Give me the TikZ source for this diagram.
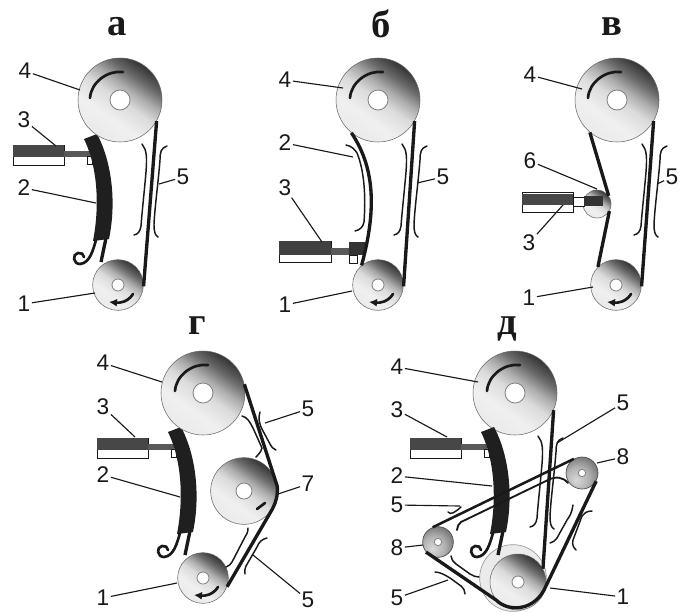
\documentclass[tikz,border=0pt]{standalone}
\usepackage{fontspec}
\setmainfont{Liberation Sans}
\newfontfamily\titlefont{Liberation Serif}
\usetikzlibrary{arrows.meta}
\definecolor{ink}{gray}{0.1}
\pgfdeclareverticalshading{pulleyaxis}{100bp}{%
 color(0bp)=(black!8); color(25bp)=(black!8); color(38bp)=(black!6); color(50bp)=(black!14); color(58bp)=(black!32); color(66bp)=(black!58); color(75bp)=(black!80); color(100bp)=(black!85)}
\pgfdeclareradialshading{idlershade}{\pgfpoint{-10bp}{-12bp}}{%
 color(0bp)=(black!15); color(18bp)=(black!30); color(34bp)=(black!55); color(50bp)=(black!78); color(70bp)=(black!85)}
\tikzset{
 pulley/.style={circle,shading=pulleyaxis,shading angle=-35,draw=black!60,line width=.4pt,inner sep=0pt},
 holeN/.style={circle,fill=white,draw=black!50,line width=.6pt,inner sep=0pt},
 belt/.style={draw=ink,line width=2.5pt,line join=round},
 slackline/.style={draw=ink,line width=1.1pt,line cap=round},
 leader/.style={draw=ink,line width=.85pt},
 lab/.style={text=ink,font=\fontsize{17}{18}\selectfont,inner sep=1pt},
 heading/.style={text=ink,font=\titlefont\bfseries\fontsize{29}{30}\selectfont,inner sep=0pt},
 spin/.style={draw=ink,line width=2pt,line cap=round},
}
% name, position, diameter, hole diameter
\newcommand\pulleyAt[4]{\node[pulley,minimum size=#3] (#1) at (#2) {};\node[holeN,minimum size=#4] (#1h) at (#1) {};}
% small idler of the last panel
\newcommand\idlerAt[3]{\node[circle,shading=idlershade,draw=black!70,line width=.5pt,inner sep=0pt,minimum size=#3] (#1) at (#2) {};\node[holeN,minimum size=5.5pt] (#1h) at (#1) {};}
% label: name, position, text, target
\newcommand\lab[4]{\node[lab] (#1) at (#2) {#3};\coordinate (#1t) at (#4);\draw[leader] (#1) -- (#1t);}
% big pulley turning mark
\newcommand\bigspin[1]{\begin{scope}[shift={(#1)}]\draw[spin] (-28,-2) .. controls (-27,-18) and (-10,-30) .. (5,-28);\end{scope}}
% small pulley turning mark
\newcommand\smallspin[1]{\begin{scope}[shift={(#1)}]\draw[spin,-{Latex[length=6pt,width=6pt]}] (15,9) .. controls (10,17) and (2,18) .. (-9,17);\end{scope}}
% tension marks beside a straight belt
\newcommand\tensionmarks[1]{\begin{scope}[shift={(#1)}]
 \draw[slackline] (142,144) .. controls (147,150) and (147,158) .. (146,172) .. controls (144,195) and (142,212) .. (141,226) .. controls (140,232) and (138,234) .. (134,235);
 \draw[slackline] (167,146) .. controls (161,148) and (160,152) .. (160,160) .. controls (158,185) and (155,205) .. (154,224) .. controls (154,232) and (155,235) .. (158,237);
\end{scope}}
% cylinder, rod, shoe, hook and slack belt
\newcommand\shoeUnit[1]{\begin{scope}[shift={(#1)}]
 \draw[ink,line width=.7pt,fill=white] (13,145) rectangle (64,165);
 \fill[black!72] (13,145) rectangle (64,157);
 \fill[black!65] (64,151) rectangle (90,157);
 \draw[ink,line width=.5pt,fill=white] (87,156) rectangle (92,164);
 \draw[belt] (106,238) -- (101,262);
 \fill[black!88] (84,139) -- (97,134) .. controls (111,160) and (117,200) .. (109,239) -- (93,241) .. controls (99,210) and (99,170) .. (84,139) -- cycle;
 \draw[ink,line width=2pt,line cap=round] (96,240) .. controls (93,250) and (90,263) .. (80,264) .. controls (73,264) and (72,254) .. (78,253) .. controls (81,252.5) and (84,254) .. (84,257);
\end{scope}}
\begin{document}
\begin{tikzpicture}[x=.75pt,y=-.75pt]
\useasboundingbox[fill=white] (0,0) rectangle (680,611);
% ---------- a
\node[heading] (ta) at (117,27) {а};
\shoeUnit{0,0}
\pulleyAt{a4}{120,100}{63pt}{15pt}
\pulleyAt{a1}{118,285}{38pt}{9pt}
\bigspin{118,100}\smallspin{118,285}
\draw[belt] (a4.-30) -- (a1.-3);
\tensionmarks{0,0}
\lab{a4l}{25,71}{4}{80,90}
\lab{a3l}{24,120}{3}{56,146}
\lab{a2l}{24,188}{2}{96,203}
\lab{a1l}{24,304}{1}{95,293}
\lab{a5l}{183,177}{5}{159,184}
% ---------- b
\node[heading] (tb) at (381,24) {б};
\draw[ink,line width=.7pt,fill=white] (279,241) rectangle (331,262);
\fill[black!75] (279,241) rectangle (331,255);
\fill[black!65] (331,248) rectangle (350,255);
\fill[black!80] (349,242) rectangle (365,255);
\draw[ink,line width=.5pt,fill=white] (349,255) rectangle (357,263);
\pulleyAt{b4}{378,100}{63pt}{15pt}
\pulleyAt{b1}{378,285}{38pt}{9pt}
\bigspin{378,100}\smallspin{378,285}
\draw[belt] (b4.-30) -- (b1.-3);
\draw[belt] (b4.-129) .. controls (373,165) and (378,205) .. (b1.130);
\tensionmarks{260,0}
\draw[slackline] (346,145) .. controls (352,146) and (355,150) .. (357,153) .. controls (364,170) and (366,195) .. (364,222) .. controls (363,227) and (360,230) .. (355,231);
\lab{b4l}{285,80}{4}{343,88}
\lab{b2l}{285,143}{2}{353,157}
\lab{b3l}{285,188}{3}{322,242}
\lab{b1l}{285,305}{1}{352,291}
\lab{b5l}{443,177}{5}{417,183}
% ---------- v
\node[heading] (tv) at (612,27) {в};
\draw[ink,line width=.7pt,fill=white] (522,192) rectangle (573,212);
\fill[black!72] (522,194) rectangle (573,205);
\node[pulley,minimum size=21pt] (v6) at (597,204) {};
\draw[ink,line width=.6pt,fill=white] (573,197) rectangle (584,206);
\fill[black!80] (584,196) rectangle (603,206);
\pulleyAt{v4}{617,100}{63pt}{15pt}
\pulleyAt{v1}{616,285}{38pt}{9pt}
\bigspin{616,100}\smallspin{616,285}
\draw[belt] (v4.-30) -- (v1.-3);
\draw[belt] (v4.-130) -- (v6.35);
\draw[belt] (v6.-30) -- (v1.135);
\tensionmarks{500,0}
\lab{v4l}{530,75}{4}{582,89}
\lab{v6l}{530,161}{6}{597,189}
\lab{v3l}{529,243}{3}{563,205}
\lab{v1l}{529,298}{1}{593,287}
\lab{v5l}{672,177}{5}{657,184}
% ---------- g
\node[heading] (tg) at (197,326) {г};
\shoeUnit{84,293}
\pulleyAt{g4}{203,393}{63pt}{15pt}
\pulleyAt{g7}{244,491}{50pt}{12pt}
\pulleyAt{g1}{203,578}{38pt}{9pt}
\bigspin{203,393}\smallspin{203,578}
\draw[spin] (257,509) -- (265,503);
\draw[belt] (g4.12) -- (g7.8) .. controls (278,495) and (276,502) .. (g7.-32) -- (g1.-20);
\draw[slackline] (242,416) .. controls (247,417) and (250,422) .. (253,428) -- (262,448) .. controls (261,452) and (258,455) .. (256,457);
\draw[slackline] (260,412) .. controls (258,418) and (259,424) .. (263,431) -- (270,444) .. controls (272,448) and (274,449) .. (276,450);
\draw[slackline] (248,528) .. controls (248,532) and (247,534) .. (245,537) -- (232,562) .. controls (231,564) and (229,566) .. (226,567);
\draw[slackline] (267,538) .. controls (262,539) and (259,542) .. (257,547) -- (246,566) .. controls (245,569) and (244,571) .. (245,574);
\lab{g4l}{103,363}{4}{162,382}
\lab{g3l}{103,407}{3}{135,437}
\lab{g2l}{103,475}{2}{180,497}
\lab{g1l}{103,598}{1}{177,583}
\lab{g5al}{308,409}{5}{265,423}
\lab{g7l}{308,484}{7}{278,494}
\lab{g5bl}{308,600}{5}{253,555}
% ---------- d
\node[heading] (td) at (507,329) {д};
\node[circle,minimum size=50pt,inner sep=0pt,fill=black!8,draw=black!40,line width=.5pt] (dr) at (513,578) {};
\pulleyAt{d4}{515,393}{63pt}{15pt}
\bigspin{515,393}
\pulleyAt{d1}{518,582}{42pt}{9pt}
\draw[belt] (d4.-24) -- (d1.28);
\tensionmarks{396,292}
\shoeUnit{397,293}
\idlerAt{d8r}{582,473}{24pt}
\idlerAt{d8l}{438,542}{23pt}
\draw[belt,line width=1.9pt] (d8l.110) -- (d8r.120);
\coordinate (dla) at (457,530);\coordinate (dlb) at (568,483);
\draw[slackline,line width=1.4pt] (dla) .. controls (458,526) and (458,524) .. (461,522) -- (548,480) .. controls (556,476) and (563,477) .. (dlb);
\draw[slackline] (448,512) .. controls (451,515) and (454,513) .. (461,507);
\draw[belt] (d8r.-30) -- (d1.-8);
\draw[belt] (d8l.-140) -- (d1.-140) .. controls (508,612) and (535,612) .. (d1.-8);
\draw[slackline] (573,505) .. controls (572,512) and (570,516) .. (567,520) -- (557,538) .. controls (555,541) and (553,542) .. (550,543);
\draw[slackline] (592,511) .. controls (587,511) and (584,513) .. (582,516) -- (573,540) .. controls (572,544) and (573,547) .. (576,550);
\draw[slackline] (451,556) .. controls (452,560) and (453,562) .. (456,564) -- (470,574) .. controls (473,576) and (476,577) .. (479,577);
\draw[slackline] (435,572) .. controls (440,572) and (445,575) .. (450,578) -- (461,586) .. controls (464,589) and (465,591) .. (465,594);
\lab{d4l}{397,367}{4}{478,382}
\lab{d3l}{397,410}{3}{447,437}
\lab{d2l}{397,476}{2}{492,486}
\lab{d5al}{397,505}{5}{460,506}
\lab{d8al}{397,548}{8}{423,545}
\lab{d5bl}{397,598}{5}{448,580}
\lab{d5cl}{623,403}{5}{557,443}
\lab{d8bl}{623,457}{8}{597,463}
\lab{d1l}{623,597}{1}{550,588}
\end{tikzpicture}
\end{document}
